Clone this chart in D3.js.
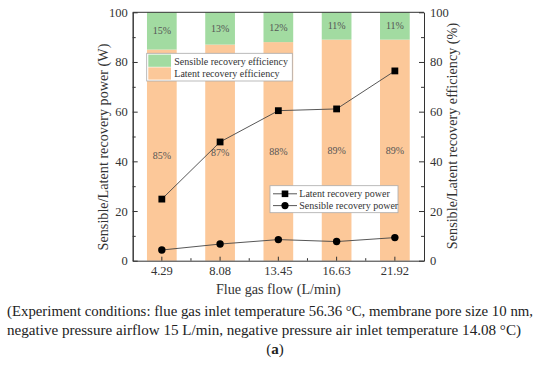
<!DOCTYPE html>
<html>
<head>
<meta charset="utf-8">
<script src="https://cdn.jsdelivr.net/npm/d3@7"></script>
<style>
  html, body { margin: 0; padding: 0; background: #fff; }
  svg { display: block; }
  svg text { font-family: "Liberation Serif", "Times New Roman", serif !important; }
</style>
</head>
<body>
<svg id="chart" width="550" height="365"></svg>
<script>
// ---- data ----
const categories = ["4.29", "8.08", "13.45", "16.63", "21.92"];
const latentEfficiency = [85, 87, 88, 89, 89];
const sensibleEfficiency = [15, 13, 12, 11, 11];
const latentPower = [24.8, 47.8, 60.4, 61.1, 76.4];
const sensiblePower = [4.3, 6.7, 8.5, 7.7, 9.3];
const yTicks = [0, 20, 40, 60, 80, 100];
const yMinorTicks = [10, 30, 50, 70, 90];
const captionLines = [
  "(Experiment conditions: flue gas inlet temperature 56.36 \u00b0C, membrane pore size 10 nm,",
  "negative pressure airflow 15 L/min, negative pressure air inlet temperature 14.08 \u00b0C)"
];

const FONT = "'Liberation Serif', 'Times New Roman', serif";
const svg = d3.select("#chart").style("font-family", FONT);
const X0 = 132.7, X1 = 424, Y0 = 12.3, Y1 = 260.7;
const textCol = "#333";
const green = "#a2dba1", orange = "#fcc899";

const x = d3.scaleBand().domain(categories).range([X0, X1]).paddingInner(0.49).paddingOuter(0.245);
const y = d3.scaleLinear().domain([0, 100]).range([Y1, Y0]);
const yR = d3.scaleLinear().domain([0, 100]).range([Y1, Y0]);
const cx = c => x(c) + x.bandwidth() / 2;

// ---- bars ----
const bars = svg.append("g");
bars.selectAll("rect.lat").data(categories).join("rect")
  .attr("x", c => x(c)).attr("width", x.bandwidth())
  .attr("y", (c, i) => yR(latentEfficiency[i]))
  .attr("height", (c, i) => yR(0) - yR(latentEfficiency[i]))
  .attr("fill", orange);
bars.selectAll("rect.sen").data(categories).join("rect")
  .attr("x", c => x(c)).attr("width", x.bandwidth())
  .attr("y", (c, i) => yR(latentEfficiency[i] + sensibleEfficiency[i]))
  .attr("height", (c, i) => yR(latentEfficiency[i]) - yR(latentEfficiency[i] + sensibleEfficiency[i]))
  .attr("fill", green);

// percentage labels
const lbl = svg.append("g").attr("font-size", 10).attr("fill", "#555").attr("text-anchor", "middle");
categories.forEach((c, i) => {
  lbl.append("text").attr("x", cx(c)).attr("y", yR(latentEfficiency[i] / 2)).attr("dy", "0.35em")
    .text(latentEfficiency[i] + "%");
  lbl.append("text").attr("x", cx(c)).attr("y", yR(latentEfficiency[i] + sensibleEfficiency[i] / 2)).attr("dy", "0.35em")
    .text(sensibleEfficiency[i] + "%");
});

// ---- axes ----
function styleAxis(g) {
  g.attr("font-family", FONT);
  g.select(".domain").attr("stroke", "#333").attr("stroke-width", 1);
  g.selectAll(".tick line").attr("stroke", "#333");
  g.selectAll(".tick text").attr("fill", textCol).attr("font-size", 12.5)
    .attr("font-family", FONT).style("font-family", FONT);
}
const gL = svg.append("g").attr("transform", `translate(${X0},0)`)
  .call(d3.axisLeft(y).tickValues(yTicks).tickSizeInner(-5).tickSizeOuter(0).tickPadding(5));
styleAxis(gL);
const gLm = svg.append("g").attr("transform", `translate(${X0},0)`)
  .call(d3.axisLeft(y).tickValues(yMinorTicks).tickSizeInner(-3).tickSizeOuter(0).tickFormat(""));
styleAxis(gLm);
const gR = svg.append("g").attr("transform", `translate(${X1},0)`)
  .call(d3.axisRight(yR).tickValues(yTicks).tickSizeInner(-5).tickSizeOuter(0).tickPadding(6));
styleAxis(gR);
const gRm = svg.append("g").attr("transform", `translate(${X1},0)`)
  .call(d3.axisRight(yR).tickValues(yMinorTicks).tickSizeInner(-3).tickSizeOuter(0).tickFormat(""));
styleAxis(gRm);
const gB = svg.append("g").attr("transform", `translate(0,${Y1})`)
  .call(d3.axisBottom(x).tickSizeInner(-4).tickSizeOuter(0).tickPadding(5));
styleAxis(gB);
// minor x ticks at midpoints between categories
const mids = categories.slice(0, -1).map(c => cx(c) + x.step() / 2);
svg.append("g").selectAll("line").data(mids).join("line")
  .attr("x1", d => d).attr("x2", d => d).attr("y1", Y1).attr("y2", Y1 - 2.5)
  .attr("stroke", "#333");
svg.append("line").attr("x1", X0).attr("x2", X1).attr("y1", Y0).attr("y2", Y0)
  .attr("stroke", "#333").attr("stroke-width", 1);

// ---- lines ----
const line = d3.line().x((d, i) => cx(categories[i])).y(d => y(d));
svg.append("path").datum(latentPower).attr("d", line).attr("fill", "none")
  .attr("stroke", "#444").attr("stroke-width", 0.9);
svg.append("path").datum(sensiblePower).attr("d", line).attr("fill", "none")
  .attr("stroke", "#444").attr("stroke-width", 0.9);
const sq = 6.8;
svg.append("g").selectAll("rect").data(latentPower).join("rect")
  .attr("x", (d, i) => cx(categories[i]) - sq / 2).attr("y", d => y(d) - sq / 2)
  .attr("width", sq).attr("height", sq).attr("fill", "#000");
svg.append("g").selectAll("circle").data(sensiblePower).join("circle")
  .attr("cx", (d, i) => cx(categories[i])).attr("cy", d => y(d)).attr("r", 3.7).attr("fill", "#000");

// ---- legend 1 (bars) ----
const lg1 = svg.append("g");
lg1.append("rect").attr("x", 146.7).attr("y", 53.3).attr("width", 145.6).attr("height", 27.7)
  .attr("fill", "#fff").attr("stroke", "#aaa").attr("stroke-width", 0.8);
[["Sensible recovery efficiency", green], ["Latent recovery efficiency", orange]].forEach((e, i) => {
  lg1.append("rect").attr("x", 148.3).attr("y", 54.6 + i * 12.8).attr("width", 22.7).attr("height", 12.2).attr("fill", e[1]);
  lg1.append("text").attr("x", 174.3).attr("y", 61 + i * 12.6).attr("dy", "0.35em")
    .attr("font-size", 10).attr("fill", textCol).text(e[0]);
});

// ---- legend 2 (lines) ----
const lg2 = svg.append("g");
lg2.append("rect").attr("x", 270).attr("y", 185.7).attr("width", 128).attr("height", 27)
  .attr("fill", "#fff").attr("stroke", "#aaa").attr("stroke-width", 0.8);
[["Latent recovery power", "sq"], ["Sensible recovery power", "ci"]].forEach((e, i) => {
  const yy = 193.8 + i * 11.8;
  lg2.append("line").attr("x1", 273).attr("x2", 297).attr("y1", yy).attr("y2", yy)
    .attr("stroke", "#444").attr("stroke-width", 0.9);
  if (e[1] === "sq") lg2.append("rect").attr("x", 285 - 3.3).attr("y", yy - 3.3).attr("width", 6.6).attr("height", 6.6).attr("fill", "#000");
  else lg2.append("circle").attr("cx", 285).attr("cy", yy).attr("r", 3.6).attr("fill", "#000");
  lg2.append("text").attr("x", 299.3).attr("y", yy).attr("dy", "0.35em")
    .attr("font-size", 10).attr("fill", textCol).text(e[0]);
});

// ---- axis titles ----
svg.append("text").attr("transform", "translate(108,147) rotate(-90)").attr("text-anchor", "middle")
  .attr("font-size", 14.2).attr("fill", textCol).text("Sensible/Latent recovery power (W)");
svg.append("text").attr("transform", "translate(456.5,136) rotate(-90)").attr("text-anchor", "middle")
  .attr("font-size", 14.2).attr("fill", textCol).text("Sensible/Latent recovery efficiency (%)");
svg.append("text").attr("x", (X0 + X1) / 2).attr("y", 294).attr("text-anchor", "middle")
  .attr("font-size", 14.2).attr("fill", textCol).text("Flue gas flow (L/min)");

// ---- caption ----
const capW = [526, 514];
captionLines.forEach((t, i) => {
  svg.append("text").attr("x", 7).attr("y", 316 + i * 19).attr("font-size", 15)
    .attr("fill", "#222").attr("textLength", capW[i]).attr("lengthAdjust", "spacingAndGlyphs").text(t);
});
const ca = svg.append("text").attr("x", 275).attr("y", 354).attr("text-anchor", "middle")
  .attr("font-size", 15).attr("fill", "#222");
ca.append("tspan").text("(");
ca.append("tspan").attr("font-weight", "bold").text("a");
ca.append("tspan").text(")");
</script>
</body>
</html>
